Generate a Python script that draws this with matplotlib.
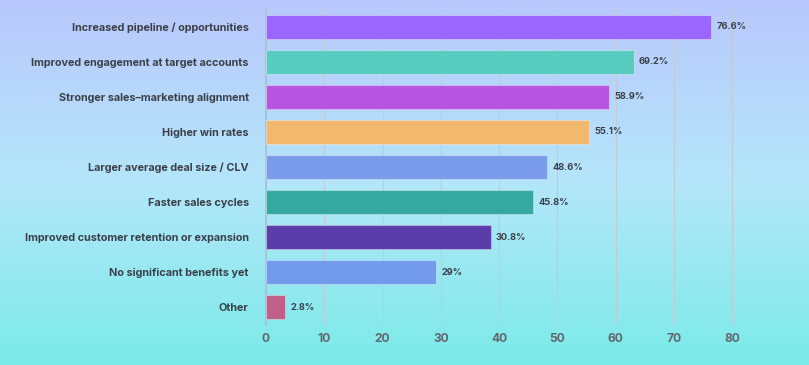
import numpy as np
import matplotlib.pyplot as plt
from matplotlib.colors import LinearSegmentedColormap

labels = ['Increased pipeline / opportunities',
          'Improved engagement at target accounts',
          'Stronger sales–marketing alignment',
          'Higher win rates',
          'Larger average deal size / CLV',
          'Faster sales cycles',
          'Improved customer retention or expansion',
          'No significant benefits yet',
          'Other']
# longitudes de barra (no siempre coinciden con la etiqueta)
values = [76.4, 63.1, 58.9, 55.5, 48.3, 45.9, 38.6, 29.2, 3.3]
value_text = ['76.6%', '69.2%', '58.9%', '55.1%', '48.6%', '45.8%', '30.8%', '29%', '2.8%']
colors = ['#9966FF', '#59CCC2', '#B755E0', '#F2B96E', '#7A9CEB',
          '#35A9A0', '#5B3DAA', '#739BEB', '#C06088']
ticks = [0, 10, 20, 30, 40, 50, 60, 70, 80]

plt.rcParams['font.family'] = ['Inter', 'DejaVu Sans']

fig = plt.figure(figsize=(8.09, 3.65), dpi=100)

# fondo degradado
bg = fig.add_axes([0, 0, 1, 1], zorder=0)
cmap = LinearSegmentedColormap.from_list('bg', ['#B9C8FC', '#B4E6FA', '#7BEBE8'])
grad = np.linspace(0, 1, 256).reshape(-1, 1)
bg.imshow(grad, aspect='auto', cmap=cmap, extent=[0, 1, 0, 1])
bg.axis('off')

ax = fig.add_axes([266 / 809, 1 - 325 / 365, 0.6, (325 - 9) / 365], zorder=1)
ax.patch.set_alpha(0)
y = np.arange(len(labels))
ax.barh(y, values, height=0.69, color=colors, edgecolor='#ffffff55', linewidth=0.8, zorder=3)
for yi, v, t in zip(y, values, value_text):
    ax.text(v + 0.85, yi, t, va='center', ha='left', fontsize=6.7, fontweight='bold', color='#3b4048', zorder=4)

ax.set_xlim(0, 83.3)
ax.set_ylim(8.514, -0.514)
ax.set_yticks(y)
ax.set_yticklabels(labels, fontsize=7.8, fontweight='bold', color='#3b4048')
ax.set_xticks(ticks)
ax.set_xticklabels([str(t) for t in ticks], fontsize=8.7, fontweight='bold', color='#62676f')
ax.tick_params(axis='y', length=0, pad=12.5)
ax.tick_params(axis='x', length=0, pad=6)
ax.grid(axis='x', color='#c2ccd6', linewidth=0.9, zorder=0)
for s in ['top', 'right', 'bottom']:
    ax.spines[s].set_visible(False)
ax.spines['left'].set_color('#9fc3d6')
ax.spines['left'].set_linewidth(1.2)

fig.savefig('out.png', dpi=100)
